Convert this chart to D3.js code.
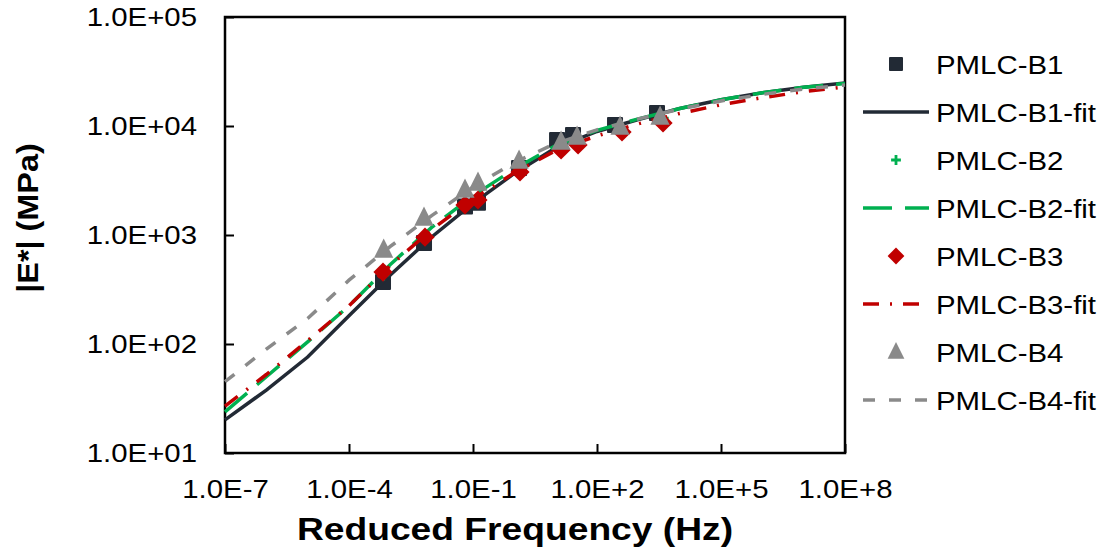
<!DOCTYPE html>
<html lang="en">
<head>
<meta charset="UTF-8"/>
<title>|E*| master curves</title>
<script src="https://d3js.org/d3.v7.min.js"></script>
<style>
    body { margin: 0; background: #fff; }
    text { font-family: "Liberation Sans", Arial, sans-serif; fill: #000; }
</style>
</head>
<body>
<svg width="1113" height="554"></svg>
<script>
// ---- data ----
const seriesNames = ["PMLC-B1", "PMLC-B2", "PMLC-B3", "PMLC-B4"];

// measured points (reduced frequency, Hz)
const freqB1 = [6.65e-4, 6.53e-3, 0.064, 0.132, 1.30, 10.8, 26.3, 273, 2830];
const freqB2 = [6.9e-4, 6.9e-3, 0.064, 0.132, 1.37, 13.5, 34.8, 403, 3960];
const freqB3 = [6.65e-4, 6.9e-3, 0.064, 0.132, 1.37, 13.5, 34.8, 403, 3960];
const freqB4 = [6.9e-4, 6.53e-3, 0.064, 0.132, 1.30, 13.5, 32.9, 361, 3350];
const modB1 = [371, 845, 1830, 1972, 4120, 7450, 8260, 10200, 13150];
const modB2 = [430, 920, 1900, 2150, 4000, 6800, 7500, 9500, 11800];
const modB3 = [457, 955, 1884, 2094, 3785, 6030, 6700, 8810, 10660];
const modB4 = [728, 1432, 2588, 3000, 4775, 7130, 7930, 9800, 12100];

// fitted master curves
const fitFreq = [1e-7, 1e-6, 1e-5, 1e-4, 1e-3, 1e-2, 1e-1, 1e0, 1e1, 1e2, 1e3, 1e4, 1e5, 1e6, 1e7, 1e8];
const fitB1 = [20.1, 37.8, 75.9, 182, 430, 959, 1950, 3673, 6310, 8913, 11482, 14454, 17378, 20184, 22646, 24774];
const fitB2 = [23.8, 50.1, 104.7, 224, 537, 1175, 2291, 4027, 6607, 9120, 11614, 14454, 17378, 20184, 22646, 24547];
const fitB3 = [26.9, 52.5, 107.2, 224, 525, 1122, 2138, 3715, 5957, 8128, 10471, 13032, 15668, 18197, 20654, 22803];
const fitB4 = [45.1, 89.9, 171.4, 385, 785, 1507, 2754, 4624, 6918, 9226, 11614, 14289, 16982, 19498, 21878, 23768];

const xTickVals = [1e-7, 1e-4, 1e-1, 1e2, 1e5, 1e8];
const xTickLabels = ["1.0E-7", "1.0E-4", "1.0E-1", "1.0E+2", "1.0E+5", "1.0E+8"];
const yTickVals = [1e1, 1e2, 1e3, 1e4, 1e5];
const yTickLabels = ["1.0E+01", "1.0E+02", "1.0E+03", "1.0E+04", "1.0E+05"];

// ---- layout ----
const svg = d3.select("svg");
const plot = {left: 225, right: 845, top: 17, bottom: 453};
const x = d3.scaleLog().domain([1e-7, 1e8]).range([plot.left, plot.right]);
const y = d3.scaleLog().domain([1e1, 1e5]).range([plot.bottom, plot.top]);

const colors = ["#222a35", "#00b050", "#c00000", "#8a8a8a"];
const dashes = [null, "29,13", "16,11,2,11", "12,14"];
const shapes = ["square", "plus", "diamond", "triangle"];

// stretch text a little wider, the original is not in Arial proportions
function widen(sel, k) {
    sel.each(function() {
        const len = this.getComputedTextLength();
        d3.select(this).attr("textLength", len * k).attr("lengthAdjust", "spacingAndGlyphs");
    });
}

function drawMarker(g, shape, color, s) {
    if (shape === "square") {
        g.append("rect").attr("x", -s / 2).attr("y", -s / 2).attr("width", s).attr("height", s)
            .attr("rx", 1).attr("fill", color);
    } else if (shape === "diamond") {
        const r = s * 0.6;
        g.append("path").attr("d", `M0,${-r}L${r},0L0,${r}L${-r},0Z`).attr("fill", color);
    } else if (shape === "triangle") {
        const h = s * 1.2;
        g.append("path").attr("d", `M0,${-h * 0.6}L${h * 0.5},${h * 0.4}L${-h * 0.5},${h * 0.4}Z`).attr("fill", color);
    } else {
        const r = s * 0.35;
        g.append("path").attr("d", `M${-r},0H${r}M0,${-r}V${r}`)
            .attr("stroke", color).attr("stroke-width", 2.8).attr("fill", "none");
    }
}

// axes
const xAxis = d3.axisBottom(x).tickValues(xTickVals)
    .tickFormat((d, i) => xTickLabels[i]).tickSizeInner(-9).tickSizeOuter(0).tickPadding(27);
const yAxis = d3.axisLeft(y).tickValues(yTickVals)
    .tickFormat((d, i) => yTickLabels[i]).tickSizeInner(-9).tickSizeOuter(0).tickPadding(28);

const gx = svg.append("g").attr("transform", `translate(0,${plot.bottom})`).call(xAxis);
const gy = svg.append("g").attr("transform", `translate(${plot.left},0)`).call(yAxis);
[gx, gy].forEach(g => {
    g.select(".domain").remove();
    g.selectAll(".tick line").attr("stroke", "#000").attr("stroke-width", 2);
    g.selectAll(".tick text").style("font-size", "26px")
        .style("font-family", '"Liberation Sans", Arial, sans-serif').attr("fill", "#000");
});
widen(gx.selectAll(".tick text"), 1.13);
widen(gy.selectAll(".tick text"), 1.13);

svg.append("rect")
    .attr("x", plot.left).attr("y", plot.top)
    .attr("width", plot.right - plot.left).attr("height", plot.bottom - plot.top)
    .attr("fill", "none").attr("stroke", "#000").attr("stroke-width", 2.5);

// series
const pts = [
    {f: freqB1, v: modB1, fit: fitB1},
    {f: freqB2, v: modB2, fit: fitB2},
    {f: freqB3, v: modB3, fit: fitB3},
    {f: freqB4, v: modB4, fit: fitB4}
];
const line = d3.line().x(d => x(d[0])).y(d => y(d[1]));

pts.forEach((s, i) => {
    s.f.forEach((f, j) => {
        const g = svg.append("g").attr("transform", `translate(${x(f)},${y(s.v[j])})`);
        drawMarker(g, shapes[i], colors[i], 16);
    });
    svg.append("path")
        .datum(fitFreq.map((f, j) => [f, s.fit[j]]))
        .attr("d", line)
        .attr("fill", "none")
        .attr("stroke", colors[i])
        .attr("stroke-width", 3.5)
        .attr("stroke-dasharray", dashes[i]);
});

// axis titles
const xt = svg.append("text").attr("x", 515).attr("y", 540).attr("text-anchor", "middle")
    .style("font-size", "31px").style("font-weight", "bold").text("Reduced Frequency (Hz)");
widen(xt, 1.2);
const yt = svg.append("text").attr("transform", "translate(38,218) rotate(-90)")
    .attr("text-anchor", "middle")
    .style("font-size", "30px").style("font-weight", "bold").text("|E*| (MPa)");
widen(yt, 1.08);

// legend
const legend = svg.append("g");
seriesNames.forEach((name, i) => {
    const yMark = 64 + i * 96, yLine = yMark + 48;
    const gm = legend.append("g").attr("transform", `translate(896,${yMark})`);
    drawMarker(gm, shapes[i], colors[i], 14);
    widen(legend.append("text").attr("x", 936).attr("y", yMark + 9.5)
        .style("font-size", "26px").text(name), 1.13);

    legend.append("line").attr("x1", 863).attr("x2", 929).attr("y1", yLine).attr("y2", yLine)
        .attr("stroke", colors[i]).attr("stroke-width", 3.5)
        .attr("stroke-dasharray", dashes[i]);
    widen(legend.append("text").attr("x", 936).attr("y", yLine + 9.5)
        .style("font-size", "26px").text(name + "-fit"), 1.13);
});
</script>
</body>
</html>
